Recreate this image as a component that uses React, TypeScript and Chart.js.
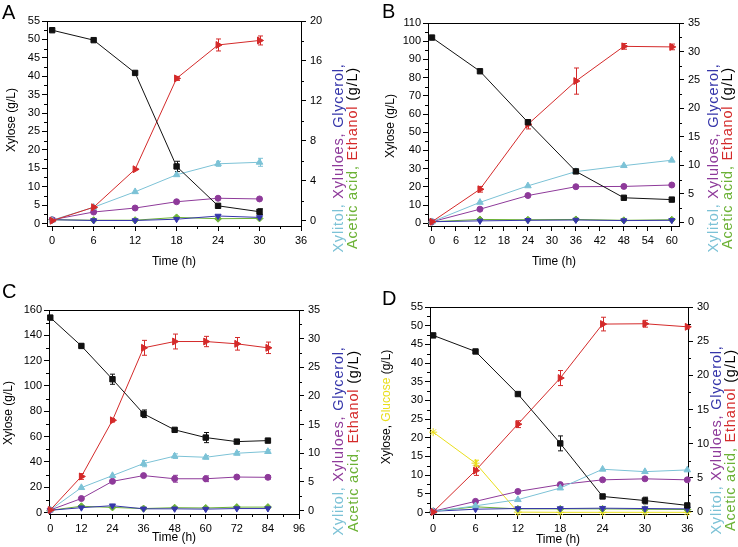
import React, { useEffect, useRef } from "react";
import { Chart, registerables } from "chart.js";
Chart.register(...registerables);

const FONT = "'Liberation Sans', Arial, sans-serif";

const C_XYLOSE = "#111111";
const C_ETHANOL = "#d42a2a";
const C_XYLITOL = "#7cc2d6";
const C_XYLULOES = "#8e3a9a";
const C_GLYCEROL = "#3636aa";
const C_ACETIC = "#6cb236";
const C_GLUCOSE = "#e9de1c";

// ---------------- Panel A ----------------
const timeA = [0, 6, 12, 18, 24, 30];
const xyloseA = [52.5, 49.8, 40.9, 15.5, 4.8, 3.2];
const xyloseErrA = [0.3, 0.3, 0.3, 1.4, 0.3, 0.8];
const ethanolA = [0.0, 1.35, 5.15, 14.25, 17.6, 18.05];
const ethanolErrA = [0.05, 0.15, 0.15, 0.2, 0.6, 0.45];
const xylitolA = [0.05, 1.35, 2.9, 4.6, 5.7, 5.85];
const xylitolErrA = [0.05, 0.05, 0.15, 0.15, 0.25, 0.4];
const xyluloesA = [0.1, 0.87, 1.27, 1.9, 2.25, 2.18];
const glycerolA = [0.1, 0.02, 0.02, 0.15, 0.47, 0.33];
const aceticA = [0.1, 0.05, 0.05, 0.33, 0.2, 0.23];
const xTicksA = [0, 6, 12, 18, 24, 30, 36];
const yLeftTicksA = [0, 5, 10, 15, 20, 25, 30, 35, 40, 45, 50, 55];
const yRightTicksA = [0, 4, 8, 12, 16, 20];

// ---------------- Panel B ----------------
const timeB = [0, 12, 24, 36, 48, 60];
const xyloseB = [102, 83.5, 55.5, 28.5, 14, 13];
const xyloseErrB = [0.5, 0.5, 1, 0.5, 0.5, 0.5];
const ethanolB = [0.1, 5.8, 17.2, 24.8, 30.9, 30.8];
const ethanolErrB = [0.1, 0.5, 0.8, 2.3, 0.5, 0.5];
const xylitolB = [0.1, 3.5, 6.4, 8.9, 9.95, 10.9];
const xylitolErrB = [0.05, 0.2, 0.2, 0.2, 0.2, 0.2];
const xyluloesB = [0.1, 2.3, 4.7, 6.25, 6.3, 6.55];
const glycerolB = [0.1, 0.25, 0.35, 0.4, 0.3, 0.35];
const aceticB = [0.1, 0.5, 0.45, 0.5, 0.35, 0.45];
const xTicksB = [0, 6, 12, 18, 24, 30, 36, 42, 48, 54, 60];
const yLeftTicksB = [0, 10, 20, 30, 40, 50, 60, 70, 80, 90, 100, 110];
const yRightTicksB = [0, 5, 10, 15, 20, 25, 30, 35];

// ---------------- Panel C ----------------
const timeC = [0, 12, 24, 36, 48, 60, 72, 84];
const xyloseC = [154, 131.6, 105.3, 78, 65.3, 59.2, 56, 56.8];
const xyloseErrC = [0.5, 1.5, 4, 3, 1, 4, 1.5, 1];
const ethanolC = [0.1, 5.95, 15.75, 28.4, 29.5, 29.5, 29.1, 28.4];
const ethanolErrC = [0.1, 0.5, 0.3, 1.3, 1.3, 0.9, 1.1, 1.0];
const xylitolC = [0.1, 4.0, 6.1, 8.2, 9.5, 9.3, 10.0, 10.3];
const xylitolErrC = [0.05, 0.2, 0.2, 0.55, 0.4, 0.3, 0.3, 0.3];
const xyluloesC = [0.1, 2.1, 5.1, 6.1, 5.55, 5.55, 5.85, 5.8];
const xyluloesErrC = [0.05, 0.1, 0.2, 0.2, 0.6, 0.5, 0.2, 0.3];
const glycerolC = [0.05, 0.5, 0.85, 0.3, 0.3, 0.25, 0.35, 0.35];
const aceticC = [0.05, 0.75, 0.55, 0.35, 0.5, 0.45, 0.6, 0.6];
const xTicksC = [0, 12, 24, 36, 48, 60, 72, 84, 96];
const yLeftTicksC = [0, 20, 40, 60, 80, 100, 120, 140, 160];
const yRightTicksC = [0, 5, 10, 15, 20, 25, 30, 35];

// ---------------- Panel D ----------------
const timeD = [0, 6, 12, 18, 24, 30, 36];
const xyloseD = [47.4, 43.1, 31.7, 18.5, 4.3, 3.2, 1.9];
const xyloseErrD = [0.3, 0.3, 0.3, 2.0, 0.3, 0.9, 0.3];
const glucoseD = [21.5, 13.2, 0.1, 0.05, 0.05, 0.05, 0.05];
const glucoseErrD = [0.3, 0.8, 0.05, 0.05, 0.05, 0.05, 0.05];
const ethanolD = [0.0, 6.05, 12.85, 19.6, 27.5, 27.55, 27.1];
const ethanolErrD = [0.1, 0.7, 0.5, 1.1, 1.0, 0.5, 0.3];
const xylitolD = [0.05, 0.9, 1.8, 3.5, 6.25, 5.9, 6.15];
const xyluloesD = [0.1, 1.55, 3.0, 4.0, 4.7, 4.85, 4.7];
const glycerolD = [0.1, 0.4, 0.5, 0.5, 0.55, 0.5, 0.45];
const aceticD = [0.1, 0.75, 0.45, 0.45, 0.45, 0.4, 0.35];
const xTicksD = [0, 6, 12, 18, 24, 30, 36];
const yLeftTicksD = [0, 5, 10, 15, 20, 25, 30, 35, 40, 45, 50, 55];
const yRightTicksD = [0, 5, 10, 15, 20, 25, 30];

type Seg = [string, string];
type Series = {
  name: string;
  values: number[];
  errors?: number[];
  axis: "yL" | "yR";
  color: string;
  marker: string;
  rotation?: number;
  radius: number;
};
type PanelCfg = {
  key: string;
  letter: string;
  letterPos: [number, number];
  pos: [number, number];
  size: [number, number];
  area: { l: number; r: number; t: number; b: number };
  time: number[];
  series: Series[];
  xRange: [number, number];
  yLRange: [number, number];
  yRRange: [number, number];
  xTicks: number[];
  yLTicks: number[];
  yRTicks: number[];
  leftTitle: Seg[];
  leftTitlePos: [number, number];
  xTitlePos: [number, number];
  rightTitleX: [number, number];
  rightTitleY: number;
};

const rightLine1: Seg[] = [
  ["Xylitol, ", C_XYLITOL],
  ["Xyluloes, ", C_XYLULOES],
  ["Glycerol,", C_GLYCEROL],
];
const rightLine2: Seg[] = [
  ["Acetic acid, ", C_ACETIC],
  ["Ethanol ", C_ETHANOL],
  ["(g/L)", "#000"],
];

function baseSeries(
  xylose: number[], xyloseErr: number[], ethanol: number[], ethanolErr: number[],
  xylitol: number[], xylitolErr: number[] | undefined, xyluloes: number[], xyluloesErr: number[] | undefined,
  glycerol: number[], acetic: number[]
): Series[] {
  return [
    { name: "Xylose", values: xylose, errors: xyloseErr, axis: "yL", color: C_XYLOSE, marker: "rect", radius: 3.8 },
    { name: "Ethanol", values: ethanol, errors: ethanolErr, axis: "yR", color: C_ETHANOL, marker: "triangle", rotation: 90, radius: 4 },
    { name: "Xylitol", values: xylitol, errors: xylitolErr, axis: "yR", color: C_XYLITOL, marker: "triangle", radius: 3.8 },
    { name: "Xyluloes", values: xyluloes, errors: xyluloesErr, axis: "yR", color: C_XYLULOES, marker: "circle", radius: 3 },
    { name: "Glycerol", values: glycerol, axis: "yR", color: C_GLYCEROL, marker: "triangle", rotation: 180, radius: 3.5 },
    { name: "Acetic acid", values: acetic, axis: "yR", color: C_ACETIC, marker: "rectRot", radius: 3.5 },
  ];
}

const panels: PanelCfg[] = [
  {
    key: "A", letter: "A", letterPos: [2, 19], pos: [0, 0], size: [369, 273],
    area: { l: 47, r: 301, t: 21, b: 226 },
    time: timeA,
    series: baseSeries(xyloseA, xyloseErrA, ethanolA, ethanolErrA, xylitolA, xylitolErrA, xyluloesA, undefined, glycerolA, aceticA),
    xRange: [-0.75, 36], yLRange: [-0.68, 55], yRRange: [-0.53, 20],
    xTicks: xTicksA, yLTicks: yLeftTicksA, yRTicks: yRightTicksA,
    leftTitle: [["Xylose (g/L)", "#000"]], leftTitlePos: [12, 120], xTitlePos: [174, 262],
    rightTitleX: [339, 353], rightTitleY: 158,
  },
  {
    key: "B", letter: "B", letterPos: [13, 18], pos: [369, 0], size: [369, 273],
    area: { l: 59, r: 310, t: 23, b: 226 },
    time: timeB,
    series: baseSeries(xyloseB, xyloseErrB, ethanolB, ethanolErrB, xylitolB, xylitolErrB, xyluloesB, undefined, glycerolB, aceticB),
    xRange: [-1, 61.8], yLRange: [-1.5, 110], yRRange: [-0.65, 35],
    xTicks: xTicksB, yLTicks: yLeftTicksB, yRTicks: yRightTicksB,
    leftTitle: [["Xylose (g/L)", "#000"]], leftTitlePos: [22, 126], xTitlePos: [185, 262],
    rightTitleX: [345, 359], rightTitleY: 158,
  },
  {
    key: "C", letter: "C", letterPos: [2, 25], pos: [0, 273], size: [369, 274],
    area: { l: 49, r: 299, t: 37, b: 241 },
    time: timeC,
    series: baseSeries(xyloseC, xyloseErrC, ethanolC, ethanolErrC, xylitolC, xylitolErrC, xyluloesC, xyluloesErrC, glycerolC, aceticC),
    xRange: [-0.5, 96], yLRange: [-1.2, 160], yRRange: [-0.6, 35],
    xTicks: xTicksC, yLTicks: yLeftTicksC, yRTicks: yRightTicksC,
    leftTitle: [["Xylose (g/L)", "#000"]], leftTitlePos: [9, 140], xTitlePos: [174, 265],
    rightTitleX: [339, 354], rightTitleY: 168,
  },
  {
    key: "D", letter: "D", letterPos: [13, 32], pos: [369, 273], size: [369, 274],
    area: { l: 61, r: 319, t: 34, b: 241 },
    time: timeD,
    series: [
      ...baseSeries(xyloseD, xyloseErrD, ethanolD, ethanolErrD, xylitolD, undefined, xyluloesD, undefined, glycerolD, aceticD),
      { name: "Glucose", values: glucoseD, errors: glucoseErrD, axis: "yL", color: C_GLUCOSE, marker: "star", radius: 4 },
    ],
    xRange: [-0.45, 36.1], yLRange: [-0.4, 55], yRRange: [-0.3, 30],
    xTicks: xTicksD, yLTicks: yLeftTicksD, yRTicks: yRightTicksD,
    leftTitle: [["Xylose, ", "#000"], ["Glucose", C_GLUCOSE], [" (g/L)", "#000"]],
    leftTitlePos: [18, 134], xTitlePos: [189, 267],
    rightTitleX: [348, 362], rightTitleY: 167,
  },
];

function drawRotated(ctx: CanvasRenderingContext2D, segs: Seg[], cx: number, cy: number, font: string, spacing = 0) {
  ctx.save();
  ctx.font = font;
  const anyCtx = ctx as any;
  if ("letterSpacing" in anyCtx) anyCtx.letterSpacing = spacing + "px";
  ctx.translate(cx, cy);
  ctx.rotate(-Math.PI / 2);
  ctx.textBaseline = "middle";
  ctx.textAlign = "left";
  const total = segs.reduce((s, [t]) => s + ctx.measureText(t).width, 0);
  let x = -total / 2;
  for (const [t, c] of segs) {
    ctx.fillStyle = c;
    ctx.fillText(t, x, 0);
    x += ctx.measureText(t).width;
  }
  ctx.restore();
}

function mids(arr: number[]) {
  return arr.slice(1).map((v, i) => (v + arr[i]) / 2);
}

function Panel({ cfg }: { cfg: PanelCfg }) {
  const ref = useRef<HTMLCanvasElement>(null);
  useEffect(() => {
    const canvas = ref.current!;
    const [W, H] = cfg.size;
    const a = cfg.area;

    const datasets: any[] = cfg.series.map((s) => ({
      label: s.name,
      data: cfg.time.map((t, i) => ({ x: t, y: s.values[i] })),
      yAxisID: s.axis,
      borderColor: s.color,
      backgroundColor: s.color,
      borderWidth: 1,
      pointStyle: s.marker,
      pointRotation: s.rotation ?? 0,
      pointRadius: s.radius,
      pointBorderWidth: 1,
      pointBorderColor: s.color,
      pointBackgroundColor: s.color,
      tension: 0,
      clip: false,
      errors: s.errors,
    }));

    const tickFont = { family: FONT, size: 11 };
    const gridOpts = {
      display: true, drawOnChartArea: false, drawTicks: true, tickLength: 5,
      color: "#000", tickColor: "#000", lineWidth: 1,
    };
    const border = { display: true, color: "#000", width: 1 };

    const plugin = {
      id: "panelDecor" + cfg.key,
      beforeDatasetsDraw(chart: any) {
        const ctx = chart.ctx as CanvasRenderingContext2D;
        const xs = chart.scales.x;
        ctx.save();
        ctx.lineWidth = 1;
        chart.data.datasets.forEach((ds: any) => {
          if (!ds.errors) return;
          const ys = chart.scales[ds.yAxisID];
          ctx.strokeStyle = ds.borderColor;
          ds.data.forEach((p: any, i: number) => {
            const e = ds.errors[i];
            if (!e) return;
            const px = Math.round(xs.getPixelForValue(p.x)) + 0.5;
            const y1 = ys.getPixelForValue(p.y + e);
            const y2 = ys.getPixelForValue(p.y - e);
            if (Math.abs(y2 - y1) < 3) return;
            ctx.beginPath();
            ctx.moveTo(px, y1); ctx.lineTo(px, y2);
            ctx.moveTo(px - 2.5, y1); ctx.lineTo(px + 2.5, y1);
            ctx.moveTo(px - 2.5, y2); ctx.lineTo(px + 2.5, y2);
            ctx.stroke();
          });
        });
        ctx.restore();
      },
      afterDraw(chart: any) {
        const ctx = chart.ctx as CanvasRenderingContext2D;
        const { left, right, top, bottom } = chart.chartArea;
        const xs = chart.scales.x, yl = chart.scales.yL, yr = chart.scales.yR;
        ctx.save();
        ctx.strokeStyle = "#000";
        ctx.lineWidth = 1;
        ctx.beginPath();
        const ty = Math.round(top) + 0.5;
        ctx.moveTo(left, ty); ctx.lineTo(right + 0.5, ty);
        for (const v of mids(cfg.xTicks)) {
          const px = Math.round(xs.getPixelForValue(v)) + 0.5;
          ctx.moveTo(px, bottom); ctx.lineTo(px, bottom + 3);
        }
        for (const v of mids(cfg.yLTicks)) {
          const py = Math.round(yl.getPixelForValue(v)) + 0.5;
          ctx.moveTo(left, py); ctx.lineTo(left - 3, py);
        }
        for (const v of mids(cfg.yRTicks)) {
          const py = Math.round(yr.getPixelForValue(v)) + 0.5;
          ctx.moveTo(right, py); ctx.lineTo(right + 3, py);
        }
        ctx.stroke();

        ctx.fillStyle = "#000";
        ctx.font = `20px ${FONT}`;
        ctx.textBaseline = "alphabetic";
        ctx.textAlign = "left";
        ctx.fillText(cfg.letter, cfg.letterPos[0], cfg.letterPos[1]);

        ctx.font = `12px ${FONT}`;
        ctx.textAlign = "center";
        ctx.textBaseline = "middle";
        ctx.fillText("Time (h)", cfg.xTitlePos[0], cfg.xTitlePos[1]);
        ctx.restore();

        drawRotated(ctx, cfg.leftTitle, cfg.leftTitlePos[0], cfg.leftTitlePos[1], `12px ${FONT}`);
        const rf = `14.5px ${FONT}`;
        drawRotated(ctx, rightLine1, cfg.rightTitleX[0], cfg.rightTitleY, rf, 0.8);
        drawRotated(ctx, rightLine2, cfg.rightTitleX[1], cfg.rightTitleY, rf, 0.8);
      },
    };

    const chart = new Chart(canvas, {
      type: "line",
      data: { datasets },
      options: {
        responsive: false,
        animation: false,
        devicePixelRatio: 1,
        layout: { padding: { top: a.t, left: 0, right: 0, bottom: 0 } },
        plugins: { legend: { display: false }, tooltip: { enabled: false }, title: { display: false } },
        scales: {
          x: {
            type: "linear", position: "bottom", bounds: "data",
            min: cfg.xRange[0], max: cfg.xRange[1],
            afterBuildTicks: (s: any) => { s.ticks = cfg.xTicks.map((v) => ({ value: v })); },
            afterFit: (s: any) => { s.height = H - a.b; },
            grid: gridOpts, border,
            ticks: { color: "#000", font: tickFont, padding: 3, maxRotation: 0, autoSkip: false, callback: (v: any) => String(v) },
          },
          yL: {
            type: "linear", position: "left", bounds: "data",
            min: cfg.yLRange[0], max: cfg.yLRange[1],
            afterBuildTicks: (s: any) => { s.ticks = cfg.yLTicks.map((v) => ({ value: v })); },
            afterFit: (s: any) => { s.width = a.l; },
            grid: gridOpts, border,
            ticks: { color: "#000", font: tickFont, padding: 2, autoSkip: false, callback: (v: any) => String(v) },
          },
          yR: {
            type: "linear", position: "right", bounds: "data",
            min: cfg.yRRange[0], max: cfg.yRRange[1],
            afterBuildTicks: (s: any) => { s.ticks = cfg.yRTicks.map((v) => ({ value: v })); },
            afterFit: (s: any) => { s.width = W - a.r; },
            grid: gridOpts, border,
            ticks: { color: "#000", font: tickFont, padding: 4, autoSkip: false, callback: (v: any) => String(v) },
          },
        },
      } as any,
      plugins: [plugin],
    });
    return () => chart.destroy();
  }, [cfg]);

  return (
    <canvas
      ref={ref}
      width={cfg.size[0]}
      height={cfg.size[1]}
      style={{ position: "absolute", left: cfg.pos[0], top: cfg.pos[1], width: cfg.size[0], height: cfg.size[1] }}
    />
  );
}

export default function App() {
  return (
    <div style={{ position: "fixed", left: 0, top: 0, width: 738, height: 547, background: "#fff", overflow: "hidden" }}>
      {panels.map((p) => (
        <Panel key={p.key} cfg={p} />
      ))}
    </div>
  );
}
